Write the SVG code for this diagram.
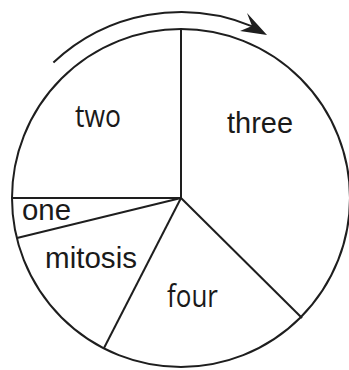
<svg xmlns="http://www.w3.org/2000/svg" width="349" height="370" viewBox="0 0 349 370">
<style>
.ln{fill:none;stroke:#1e1e1e;stroke-width:2}
.a{font-family:"Liberation Sans",Arial,sans-serif;font-size:30px;fill:#1a1a1a}
.h{font-family:"Open Sans","Noto Sans",sans-serif;font-size:31px;fill:#1a1a1a}
</style>
<rect width="349" height="370" fill="#fff"/>
<g id="wheel">
<circle class="ln" cx="181" cy="198" r="169"/>
</g>
<g id="connectors">
<line class="ln" x1="181" y1="198" x2="181" y2="29"/>
<line class="ln" x1="181" y1="198" x2="12" y2="198"/>
<line class="ln" x1="181" y1="198" x2="17" y2="238"/>
<line class="ln" x1="181" y1="198" x2="104" y2="348"/>
<line class="ln" x1="181" y1="198" x2="302" y2="318"/>
<path class="ln" d="M53.4,62.6 A186,186 0 0 1 252.3,26.3"/>
<polygon points="267,35 247,13 252,26 240,31" fill="#1e1e1e"/>
</g>
<g id="two"><text class="h" x="75" y="127" textLength="46" lengthAdjust="spacingAndGlyphs">two</text></g>
<g id="three"><text class="a" x="227" y="133" textLength="66" lengthAdjust="spacingAndGlyphs">three</text></g>
<g id="one"><text class="a" x="22" y="220" textLength="49" lengthAdjust="spacingAndGlyphs">one</text></g>
<g id="mitosis"><text class="a" x="45" y="268" textLength="92" lengthAdjust="spacingAndGlyphs">mitosis</text></g>
<g id="four"><text class="h" x="167" y="307" textLength="51" lengthAdjust="spacingAndGlyphs">four</text></g>
</svg>
